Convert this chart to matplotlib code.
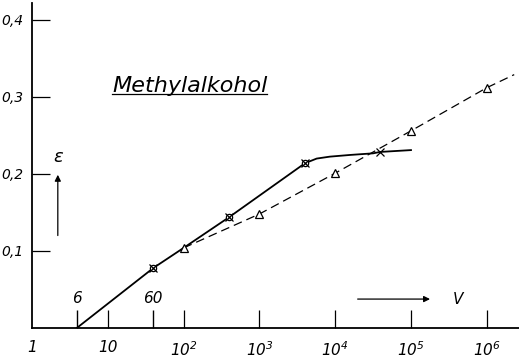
import matplotlib
matplotlib.use("Agg")
import matplotlib.pyplot as plt

plt.rcParams["font.family"] = "DejaVu Sans"
plt.rcParams["mathtext.fontset"] = "custom"
plt.rcParams["mathtext.rm"] = "DejaVu Sans:italic"
plt.rcParams["mathtext.it"] = "DejaVu Sans:italic"

# ausgezogene Kurve
v_solid = [3.9, 40, 100, 400, 4000, 5700, 8500, 15700, 31700, 39000, 100000]
eps_solid = [0.0, 0.078, 0.104, 0.144, 0.214, 0.220, 0.2225, 0.2247, 0.2268, 0.2286, 0.231]

# gestrichelte Kurve
v_dash = [100, 1000, 10000, 100000, 1000000, 2300000]
eps_dash = [0.104, 0.148, 0.201, 0.256, 0.312, 0.329]

# Messpunkte
v_circ = [40, 400, 4000]
eps_circ = [0.078, 0.144, 0.214]
v_cross = [40, 400, 4000, 39000]
eps_cross = [0.078, 0.144, 0.214, 0.2286]
v_tri = [100, 1000, 10000, 100000, 1000000]
eps_tri = [0.104, 0.148, 0.201, 0.256, 0.312]

xticks = [1, 10, 100, 1000, 10000, 100000, 1000000]
xticklabels = ["1", "10", r"$10^{2}$", r"$10^{3}$", r"$10^{4}$", r"$10^{5}$", r"$10^{6}$"]
yticks = [0.1, 0.2, 0.3, 0.4]
yticklabels = ["0,1", "0,2", "0,3", "0,4"]
extra_ticks = [3.9, 39.5]
extra_labels = ["6", "60"]

fig = plt.figure(figsize=(5.19, 3.60), dpi=100)
ax = fig.add_axes([32 / 519, 32 / 360, 487 / 519, 325 / 360])

ax.plot(v_solid, eps_solid, color="black", lw=1.3)
ax.plot(v_dash, eps_dash, color="black", lw=0.9, dashes=(7, 4))
ax.plot(v_circ, eps_circ, ls="none", marker="o", ms=4.5, mfc="white", mec="black", mew=0.9)
ax.plot(v_cross, eps_cross, ls="none", marker="x", ms=5.5, mec="black", mew=0.9)
ax.plot(v_tri, eps_tri, ls="none", marker="^", ms=5.5, mfc="white", mec="black", mew=0.9)

ax.set_xscale("log")
ax.set_xlim(1, 10 ** 6.425)
ax.set_ylim(0, 0.422)

for s in ["top", "right"]:
    ax.spines[s].set_visible(False)
ax.spines["left"].set_linewidth(1.3)
ax.spines["bottom"].set_linewidth(1.3)

ax.set_xticks(xticks)
ax.set_xticklabels(xticklabels, fontsize=11, style="italic")
ax.set_xticks(extra_ticks, minor=True)
ax.set_xticklabels([], minor=True)
ax.tick_params(axis="x", which="major", direction="in", length=13, width=0.9, pad=9)
ax.tick_params(axis="x", which="minor", direction="in", length=13, width=1.0)
ax.get_xticklines()[0].set_visible(False)

ax.set_yticks(yticks)
ax.set_yticklabels(yticklabels, fontsize=10, style="italic")
ax.tick_params(axis="y", direction="in", length=13, width=0.9, pad=6)

for xv, lab in zip(extra_ticks, extra_labels):
    ax.annotate(lab, (xv, 0), xytext=(0, 16), textcoords="offset points",
                ha="center", va="bottom", fontsize=11, style="italic")

# Titel mit Unterstreichung
t = ax.text(0.324, 0.715, "Methylalkohol", transform=ax.transAxes,
            fontsize=16, style="italic", ha="center", va="bottom")
fig.canvas.draw()
bb = t.get_window_extent().transformed(ax.transAxes.inverted())
ax.plot([bb.x0, bb.x1], [bb.y0 + 0.004, bb.y0 + 0.004],
        transform=ax.transAxes, color="black", lw=0.9, clip_on=False)

# epsilon mit Pfeil
ax.annotate("", xy=(0.053, 0.48), xytext=(0.053, 0.276), xycoords="axes fraction",
            arrowprops=dict(arrowstyle="-|>", color="black", lw=0.9, mutation_scale=9))
ax.text(0.053, 0.50, "ε", transform=ax.transAxes, fontsize=13, style="italic",
        ha="center", va="bottom")

# V mit Pfeil
ax.annotate("", xy=(0.823, 0.089), xytext=(0.663, 0.089), xycoords="axes fraction",
            arrowprops=dict(arrowstyle="-|>", color="black", lw=0.9, mutation_scale=9))
ax.text(0.875, 0.089, "V", transform=ax.transAxes, fontsize=11, style="italic",
        ha="center", va="center")

fig.savefig("out.png", dpi=100)
